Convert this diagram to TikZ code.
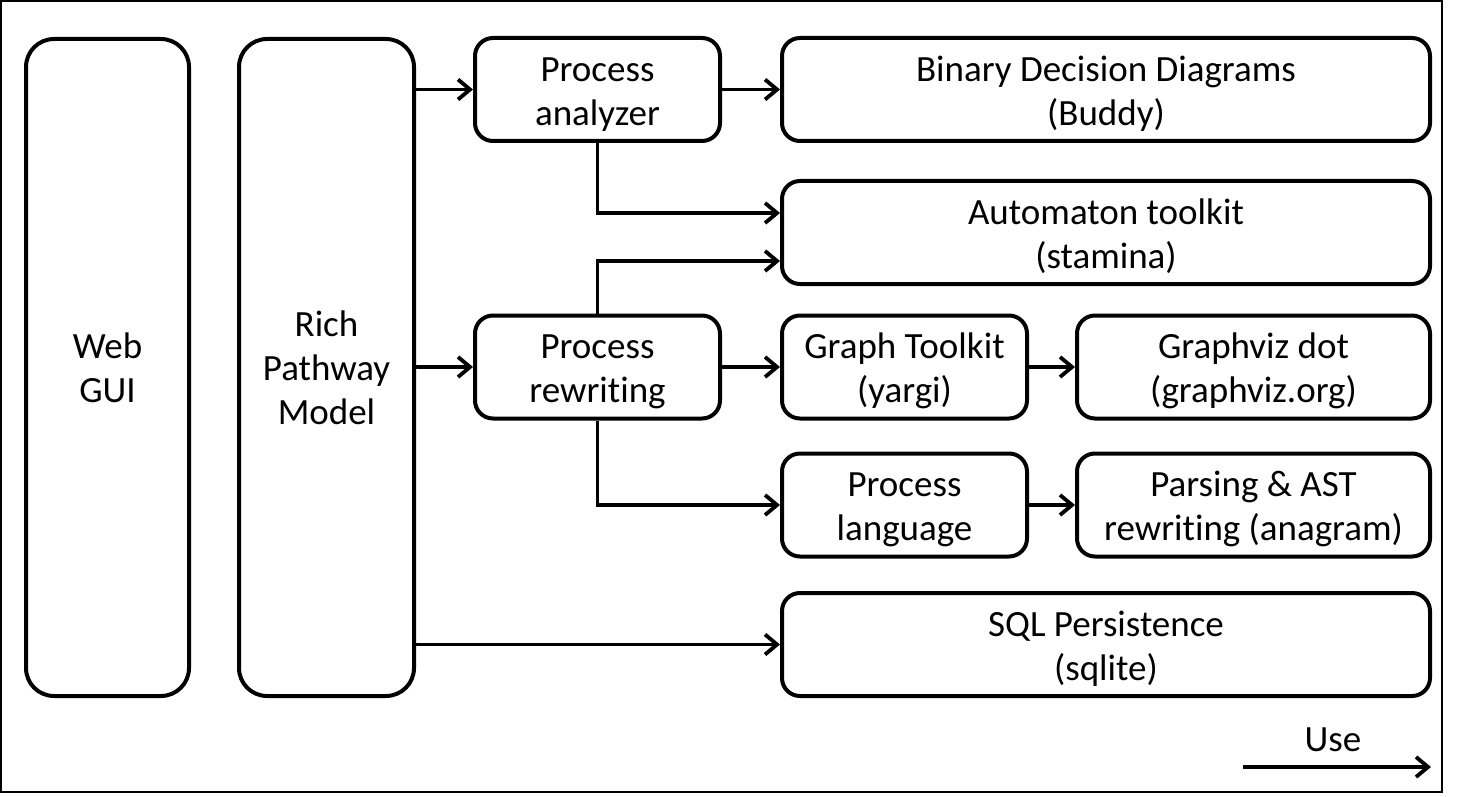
\documentclass[tikz,border=0pt]{standalone}
\usepackage{fontspec}
\setmainfont{Carlito}[Ligatures=NoCommon]
\usetikzlibrary{arrows.meta}
\newcommand{\lift}{\rule{0pt}{34pt}}
\tikzset{
  block/.style={draw, line width=4pt, rounded corners=18pt, align=center, inner sep=0pt,
    minimum height=103pt, font=\fontsize{37}{44}\selectfont},
  tall/.style={block, rounded corners=28pt, minimum height=657pt},
  uses/.style={line width=3.8pt, -{Straight Barb[length=12pt,width=20pt,line width=3.8pt]}},
}
\begin{document}
\begin{tikzpicture}[x=1pt,y=-1pt]
                \useasboundingbox (0,0) rectangle (1457,797);
                \draw[line width=1.2pt] (1,1) rectangle (1442,792);
                % left columns
                \node[tall, minimum width=163pt] (gui) at (107.5,367.5) {Web\\GUI};
                \node[tall, minimum width=175pt] (rpm) at (326.5,367.5) {Rich\\Pathway\\Model};
                % middle column
                \node[block, minimum width=245pt] (analyzer) at (597.5,89.5) {\lift Process\\analyzer};
                \node[block, minimum width=245pt] (rewriting) at (597.5,367) {\lift Process\\rewriting};
                % right column
                \node[block, minimum width=648pt] (bdd) at (1106,89.5) {\lift Binary Decision Diagrams\\(Buddy)};
                \node[block, minimum width=648pt] (stamina) at (1106,232.5) {\lift Automaton toolkit\\(stamina)};
                \node[block, minimum width=245pt] (yargi) at (904.5,367) {\lift Graph Toolkit\\(yargi)};
                \node[block, minimum width=353pt] (dot) at (1253.5,367) {\lift Graphviz dot\\(graphviz.org)};
                \node[block, minimum width=245pt] (language) at (904.5,505) {\lift Process\\language};
                \node[block, minimum width=353pt] (anagram) at (1253.5,505) {\lift Parsing \& AST\\rewriting (anagram)};
                \node[block, minimum width=648pt] (sqlite) at (1106,644.5) {\lift SQL Persistence\\(sqlite)};
                % uses
                \draw[uses] (rpm.east |- analyzer.west) -- (analyzer.west);
                \draw[uses] (analyzer.east) -- (bdd.west);
                \draw[uses] (analyzer.south) |- ([yshift=19.5pt]stamina.west);
                \draw[uses] (rewriting.north) |- ([yshift=-28.5pt]stamina.west);
                \draw[uses] (rpm.east |- rewriting.west) -- (rewriting.west);
                \draw[uses] (rewriting.east) -- (yargi.west);
                \draw[uses] (yargi.east) -- (dot.west);
                \draw[uses] (rewriting.south) |- (language.west);
                \draw[uses] (language.east) -- (anagram.west);
                \draw[uses] (rpm.east |- sqlite.west) -- (sqlite.west);
                % legend
                \coordinate (legfrom) at (1243,767);
                \coordinate (legto) at (1431,767);
                \draw[uses] (legfrom) -- (legto);
                \node[font=\fontsize{37}{44}\selectfont] (uselabel) at (1333,740) {Use};
\end{tikzpicture}
\end{document}
